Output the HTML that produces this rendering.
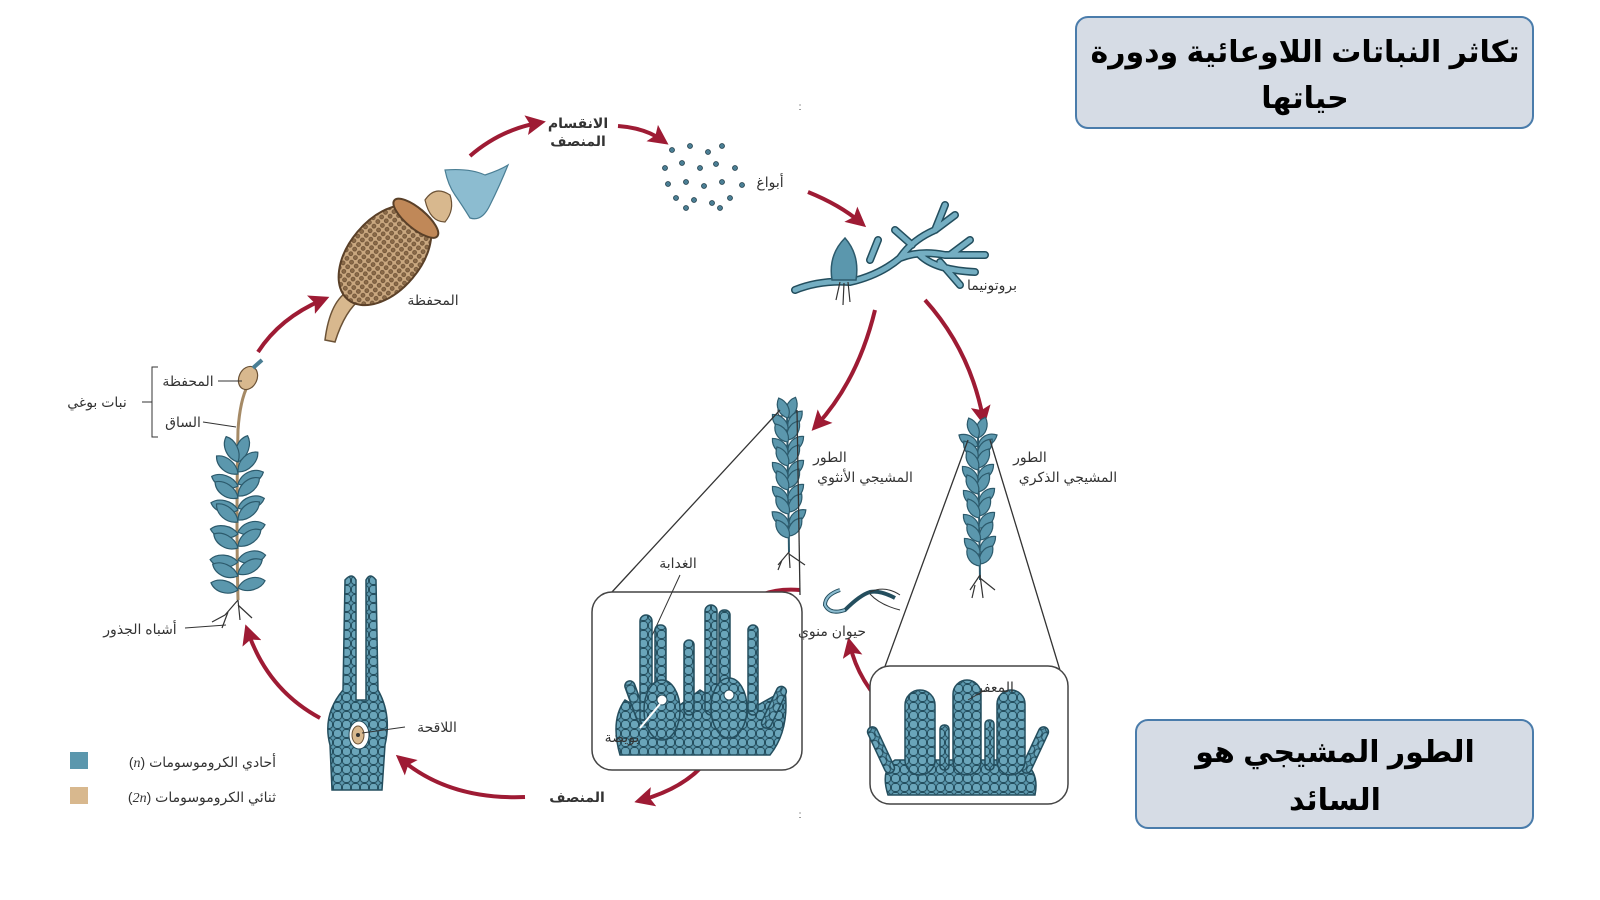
<!DOCTYPE html>
<html><head><meta charset="utf-8"><style>
html,body{margin:0;padding:0;background:#fff;width:1600px;height:900px;overflow:hidden}
svg{display:block}
text{font-family:"Liberation Sans","DejaVu Sans",sans-serif;fill:#333}
.lb{font-size:14px}
.bd{font-weight:bold}
</style></head><body>
<svg width="1600" height="900" viewBox="0 0 1600 900" xmlns="http://www.w3.org/2000/svg">
<defs>
<path id="lf" d="M0 0 C8 -9 22 -8 28 0 C22 7 8 8 0 0Z" fill="#5b97ad" stroke="#2c5a6c" stroke-width="1.2"/>
<path id="lfs" d="M0 0 C6 -7 16 -7 22 0 C16 6 6 7 0 0Z" fill="#5b97ad" stroke="#2c5a6c" stroke-width="1.2"/>
<marker id="ah" viewBox="0 0 10 10" refX="6" refY="5" markerWidth="5" markerHeight="5" orient="auto"><path d="M0 0 L10 5 L0 10 L2 5Z" fill="#9e1b34"/></marker>
<pattern id="cells" width="9" height="9" patternUnits="userSpaceOnUse"><rect width="9" height="9" fill="#5b97ad"/><rect x="0.5" y="0.5" width="8" height="8" rx="3" fill="#6aa5ba" stroke="#244e5e" stroke-width="1"/></pattern>
<pattern id="mesh" width="6" height="6" patternUnits="userSpaceOnUse"><rect width="6" height="6" fill="#c9a77f"/><circle cx="3" cy="3" r="2" fill="#8a6a48" stroke="#5a4028" stroke-width=".6"/></pattern>
</defs>

<rect x="1076" y="17" width="457" height="111" rx="12" fill="#d6dce5" stroke="#4a7cab" stroke-width="2"/>
<text x="1305" y="62" text-anchor="middle" font-size="30" class="bd" style="fill:#000">تكاثر النباتات اللاوعائية ودورة</text>
<text x="1305" y="108" text-anchor="middle" font-size="30" class="bd" style="fill:#000">حياتها</text>
<rect x="1136" y="720" width="397" height="108" rx="12" fill="#d6dce5" stroke="#4a7cab" stroke-width="2"/>
<text x="1335" y="762" text-anchor="middle" font-size="30" class="bd" style="fill:#000">الطور المشيجي هو</text>
<text x="1335" y="810" text-anchor="middle" font-size="30" class="bd" style="fill:#000">السائد</text>

<g fill="none" stroke="#9e1b34" stroke-width="4" marker-end="url(#ah)">
<path d="M258 352 Q280 318 322 300"/>
<path d="M470 156 Q500 130 538 123"/>
<path d="M618 126 Q645 128 662 140"/>
<path d="M808 192 Q840 205 860 222"/>
<path d="M875 310 Q858 380 817 425"/>
<path d="M925 300 Q970 350 983 418"/>
<path d="M905 725 Q860 690 850 645"/>
<path d="M800 590 Q735 585 727 650"/>
<path d="M728 690 Q730 775 642 800"/>
<path d="M525 797 Q450 800 402 760"/>
<path d="M320 718 Q268 690 248 632"/>
</g>

<path d="M325 340 Q330 300 350 290 L362 298 Q345 310 335 342Z" fill="#d8b88e" stroke="#6b5236" stroke-width="1.5"/>
<g transform="translate(385,255) rotate(-50)">
<ellipse cx="0" cy="0" rx="58" ry="36" fill="url(#mesh)" stroke="#5a4028" stroke-width="2"/>
<ellipse cx="48" cy="0" rx="10" ry="28" fill="#c08858" stroke="#5a4028" stroke-width="2"/>
</g>
<path d="M425 200 Q435 185 450 195 Q455 210 445 222 Q430 222 425 200Z" fill="#d8b88e" stroke="#6b5236" stroke-width="1.2"/>
<path d="M445 170 Q470 168 485 175 Q500 170 508 165 Q500 185 490 205 Q482 222 470 218 Q462 205 455 195 Q448 185 445 170Z" fill="#8cbcd0" stroke="#4a7e94" stroke-width="1.2"/>
<text x="433" y="305" class="lb" text-anchor="middle">المحفظة</text>

<text x="578" y="128" class="lb bd" text-anchor="middle">الانقسام</text>
<text x="578" y="146" class="lb bd" text-anchor="middle">المنصف</text>

<g fill="#4a7e94" stroke="#233f4b" stroke-width=".8">
<circle cx="672" cy="150" r="2.5"/><circle cx="690" cy="146" r="2.5"/><circle cx="708" cy="152" r="2.5"/><circle cx="722" cy="146" r="2.5"/>
<circle cx="665" cy="168" r="2.5"/><circle cx="682" cy="163" r="2.5"/><circle cx="700" cy="168" r="2.5"/><circle cx="716" cy="164" r="2.5"/><circle cx="735" cy="168" r="2.5"/>
<circle cx="668" cy="184" r="2.5"/><circle cx="686" cy="182" r="2.5"/><circle cx="704" cy="186" r="2.5"/><circle cx="722" cy="182" r="2.5"/><circle cx="742" cy="185" r="2.5"/>
<circle cx="676" cy="198" r="2.5"/><circle cx="694" cy="200" r="2.5"/><circle cx="712" cy="203" r="2.5"/><circle cx="730" cy="198" r="2.5"/><circle cx="686" cy="208" r="2.5"/><circle cx="720" cy="208" r="2.5"/>
</g>
<text x="770" y="187" class="lb" text-anchor="middle">أبواغ</text>

<g fill="none" stroke-linecap="round">
<path d="M795 290 Q820 280 850 282 Q880 275 900 258 Q920 250 945 255 L985 255 M900 258 Q912 240 935 230 L945 205 M935 230 L955 215 M912 245 L895 230 M870 260 L878 240 M920 255 Q935 270 975 272 M940 262 L960 285 M950 255 L970 240" stroke="#234e5e" stroke-width="8"/>
<path d="M795 290 Q820 280 850 282 Q880 275 900 258 Q920 250 945 255 L985 255 M900 258 Q912 240 935 230 L945 205 M935 230 L955 215 M912 245 L895 230 M870 260 L878 240 M920 255 Q935 270 975 272 M940 262 L960 285 M950 255 L970 240" stroke="#74aec2" stroke-width="5"/>
</g>
<path d="M832 280 Q828 255 845 238 Q860 255 856 280Z" fill="#5b97ad" stroke="#2c5a6c" stroke-width="1.5"/>
<path d="M840 282 L836 300 M848 282 L850 302 M844 283 L843 305" stroke="#333" stroke-width="1.2"/>
<text x="992" y="290" class="lb" text-anchor="middle">بروتونيما</text>

<path d="M238 600 Q236 520 238 430 Q240 400 248 385" stroke="#a58a66" stroke-width="3" fill="none"/>
<ellipse cx="248" cy="378" rx="9" ry="12" transform="rotate(25 248 378)" fill="#d8b88e" stroke="#6b5236" stroke-width="1.2"/>
<path d="M253 368 L262 360" stroke="#4a7e94" stroke-width="4"/>
<g>
<use href="#lf" transform="translate(238,462) rotate(-70)"/><use href="#lf" transform="translate(238,462) rotate(-115)"/>
<use href="#lf" transform="translate(238,472) rotate(-45)"/><use href="#lf" transform="translate(238,474) rotate(-140)"/>
<use href="#lf" transform="translate(238,484) rotate(-25)"/><use href="#lf" transform="translate(238,486) rotate(-160)"/>
<use href="#lf" transform="translate(238,496) rotate(-40)"/><use href="#lf" transform="translate(238,498) rotate(-145)"/>
<use href="#lf" transform="translate(238,508) rotate(-20)"/><use href="#lf" transform="translate(238,510) rotate(-165)"/>
<use href="#lf" transform="translate(238,520) rotate(-40)"/><use href="#lf" transform="translate(238,522) rotate(-140)"/>
<use href="#lf" transform="translate(238,532) rotate(-15)"/><use href="#lf" transform="translate(238,534) rotate(-170)"/>
<use href="#lf" transform="translate(238,546) rotate(-35)"/><use href="#lf" transform="translate(238,548) rotate(-150)"/>
<use href="#lf" transform="translate(238,560) rotate(-10)"/><use href="#lf" transform="translate(238,562) rotate(-175)"/>
<use href="#lf" transform="translate(238,574) rotate(-30)"/><use href="#lf" transform="translate(238,576) rotate(-155)"/>
<use href="#lf" transform="translate(238,588) rotate(-15)"/><use href="#lf" transform="translate(238,590) rotate(-165)"/>
</g>
<path d="M238 600 L225 615 L212 622 M238 600 L240 620 M238 605 L252 618 M228 612 L222 628" stroke="#333" stroke-width="1.2" fill="none"/>
<path d="M158 367 L152 367 L152 437 L158 437 M152 402 L142 402" stroke="#333" fill="none"/>
<text x="97" y="407" class="lb" text-anchor="middle">نبات بوغي</text>
<text x="188" y="386" class="lb" text-anchor="middle">المحفظة</text>
<line x1="218" y1="381" x2="242" y2="381" stroke="#333"/>
<text x="183" y="427" class="lb" text-anchor="middle">الساق</text>
<line x1="203" y1="422" x2="236" y2="427" stroke="#333"/>
<text x="140" y="634" class="lb" text-anchor="middle">أشباه الجذور</text>
<line x1="185" y1="628" x2="226" y2="625" stroke="#333"/>

<path d="M345 580 Q352 572 356 580 L356 700 L366 700 L366 580 Q370 572 376 580 L378 690 Q392 715 385 745 L382 790 L332 790 L330 745 Q322 715 343 690Z" fill="url(#cells)" stroke="#244e5e" stroke-width="1.5"/>
<ellipse cx="359" cy="735" rx="10" ry="14" fill="#fff" stroke="#244e5e"/>
<ellipse cx="358" cy="735" rx="6" ry="9" fill="#d8b88e" stroke="#6b5236"/>
<circle cx="358" cy="735" r="2" fill="#333"/>
<line x1="362" y1="733" x2="405" y2="727" stroke="#333"/>
<text x="437" y="732" class="lb" text-anchor="middle">اللاقحة</text>

<rect x="70" y="752" width="18" height="17" fill="#5b97ad"/>
<rect x="70" y="787" width="18" height="17" fill="#d8b88e"/>
<text x="276" y="767" class="lb" direction="rtl" text-anchor="start">أحادي الكروموسومات (<tspan font-style="italic" font-family="Liberation Serif">n</tspan>)</text>
<text x="276" y="802" class="lb" direction="rtl" text-anchor="start">ثنائي الكروموسومات (<tspan font-style="italic" font-family="Liberation Serif">2n</tspan>)</text>
<text x="577" y="802" class="lb bd" text-anchor="middle">المنصف</text>

<rect x="778" y="404" width="18" height="12" rx="3" fill="none" stroke="#333"/>
<line x1="787" y1="410" x2="789" y2="552" stroke="#2c5a6c" stroke-width="2"/>
<g>
<use href="#lfs" transform="translate(788,418) rotate(-70)"/><use href="#lfs" transform="translate(788,418) rotate(-115)"/>
<use href="#lfs" transform="translate(788,428) rotate(-50)"/><use href="#lfs" transform="translate(788,430) rotate(-135)"/>
<use href="#lfs" transform="translate(788,440) rotate(-60)"/><use href="#lfs" transform="translate(788,442) rotate(-125)"/>
<use href="#lfs" transform="translate(788,452) rotate(-45)"/><use href="#lfs" transform="translate(788,454) rotate(-135)"/>
<use href="#lfs" transform="translate(788,464) rotate(-60)"/><use href="#lfs" transform="translate(788,466) rotate(-120)"/>
<use href="#lfs" transform="translate(788,476) rotate(-45)"/><use href="#lfs" transform="translate(788,478) rotate(-135)"/>
<use href="#lfs" transform="translate(788,488) rotate(-60)"/><use href="#lfs" transform="translate(788,490) rotate(-120)"/>
<use href="#lfs" transform="translate(788,500) rotate(-45)"/><use href="#lfs" transform="translate(788,502) rotate(-135)"/>
<use href="#lfs" transform="translate(789,512) rotate(-55)"/><use href="#lfs" transform="translate(789,514) rotate(-125)"/>
<use href="#lfs" transform="translate(789,524) rotate(-40)"/><use href="#lfs" transform="translate(789,526) rotate(-140)"/>
<use href="#lfs" transform="translate(789,536) rotate(-55)"/><use href="#lfs" transform="translate(789,538) rotate(-125)"/>
</g>
<path d="M789 552 L778 565 M789 552 L790 568 M789 554 L805 565 M782 560 L778 570" stroke="#333" stroke-width="1.2" fill="none"/>
<text x="830" y="462" class="lb" text-anchor="middle">الطور</text>
<text x="865" y="482" class="lb" text-anchor="middle">المشيجي الأنثوي</text>
<line x1="780" y1="410" x2="600" y2="605" stroke="#333" stroke-width="1.3"/>
<line x1="797" y1="410" x2="800" y2="595" stroke="#333" stroke-width="1.3"/>
<rect x="592" y="592" width="210" height="178" rx="20" fill="#fff" stroke="#444" stroke-width="1.5"/>
<text x="678" y="568" class="lb" text-anchor="middle">الغدابة</text>
<line x1="680" y1="575" x2="650" y2="640" stroke="#333"/>
<g fill="url(#cells)" stroke="#244e5e" stroke-width="1.5">
<path d="M620 755 Q610 720 625 700 L660 720 L700 690 L740 715 L785 690 Q790 730 770 755Z"/>
<rect x="630" y="680" width="10" height="45" rx="5" transform="rotate(-20 635 700)"/>
<rect x="640" y="615" width="12" height="110" rx="6"/>
<rect x="655" y="625" width="11" height="95" rx="5"/>
<rect x="684" y="640" width="10" height="75" rx="5"/>
<rect x="705" y="605" width="12" height="110" rx="6"/>
<rect x="719" y="610" width="11" height="100" rx="5"/>
<rect x="748" y="625" width="10" height="90" rx="5"/>
<rect x="770" y="685" width="10" height="45" rx="5" transform="rotate(25 775 705)"/>
<ellipse cx="662" cy="710" rx="18" ry="30"/>
<ellipse cx="729" cy="708" rx="18" ry="30"/>
</g>
<circle cx="662" cy="700" r="5" fill="#fff" stroke="#244e5e"/>
<circle cx="729" cy="695" r="5" fill="#fff" stroke="#244e5e"/>
<line x1="660" y1="704" x2="640" y2="728" stroke="#fff" stroke-width="2"/>
<text x="622" y="742" class="lb" text-anchor="middle" font-size="13">بويضة</text>

<path d="M840 590 Q825 595 825 605 Q830 615 845 610 Q860 595 870 592 Q880 590 895 598" fill="none" stroke="#244e5e" stroke-width="4"/>
<path d="M840 590 Q825 595 825 605 Q830 615 845 610" fill="none" stroke="#8cbcd0" stroke-width="2"/>
<path d="M870 592 Q885 585 900 595 M870 594 Q880 605 900 610" fill="none" stroke="#333" stroke-width="1"/>
<text x="832" y="636" class="lb" text-anchor="middle">حيوان منوي</text>

<line x1="978" y1="435" x2="980" y2="580" stroke="#2c5a6c" stroke-width="2"/>
<g>
<use href="#lfs" transform="translate(978,438) rotate(-70)"/><use href="#lfs" transform="translate(978,438) rotate(-115)"/>
<use href="#lfs" transform="translate(978,446) rotate(-30)"/><use href="#lfs" transform="translate(978,446) rotate(-150)"/>
<use href="#lfs" transform="translate(978,456) rotate(-50)"/><use href="#lfs" transform="translate(978,458) rotate(-130)"/>
<use href="#lfs" transform="translate(978,468) rotate(-60)"/><use href="#lfs" transform="translate(978,470) rotate(-120)"/>
<use href="#lfs" transform="translate(978,480) rotate(-45)"/><use href="#lfs" transform="translate(978,482) rotate(-135)"/>
<use href="#lfs" transform="translate(978,492) rotate(-60)"/><use href="#lfs" transform="translate(978,494) rotate(-120)"/>
<use href="#lfs" transform="translate(979,504) rotate(-45)"/><use href="#lfs" transform="translate(979,506) rotate(-135)"/>
<use href="#lfs" transform="translate(979,516) rotate(-60)"/><use href="#lfs" transform="translate(979,518) rotate(-120)"/>
<use href="#lfs" transform="translate(979,528) rotate(-45)"/><use href="#lfs" transform="translate(979,530) rotate(-135)"/>
<use href="#lfs" transform="translate(980,540) rotate(-55)"/><use href="#lfs" transform="translate(980,542) rotate(-125)"/>
<use href="#lfs" transform="translate(980,552) rotate(-45)"/><use href="#lfs" transform="translate(980,554) rotate(-135)"/>
<use href="#lfs" transform="translate(980,564) rotate(-55)"/><use href="#lfs" transform="translate(980,566) rotate(-125)"/>
</g>
<path d="M980 575 L970 590 M980 575 L983 598 M980 578 L995 590 M975 585 L972 598" stroke="#333" stroke-width="1.2" fill="none"/>
<text x="1030" y="462" class="lb" text-anchor="middle">الطور</text>
<text x="1068" y="482" class="lb" text-anchor="middle">المشيجي الذكري</text>
<line x1="968" y1="440" x2="880" y2="680" stroke="#333" stroke-width="1.3"/>
<line x1="990" y1="440" x2="1066" y2="690" stroke="#333" stroke-width="1.3"/>
<rect x="870" y="666" width="198" height="138" rx="20" fill="#fff" stroke="#444" stroke-width="1.5"/>
<g fill="url(#cells)" stroke="#244e5e" stroke-width="1.5">
<path d="M888 795 Q880 770 895 760 L1020 760 Q1040 770 1035 795Z"/>
<rect x="876" y="725" width="10" height="50" rx="5" transform="rotate(-25 881 750)"/>
<rect x="1030" y="725" width="10" height="50" rx="5" transform="rotate(25 1035 750)"/>
<rect x="905" y="690" width="30" height="85" rx="15"/>
<rect x="940" y="725" width="9" height="45" rx="4"/>
<rect x="953" y="680" width="28" height="95" rx="14"/>
<rect x="985" y="720" width="9" height="50" rx="4"/>
<rect x="997" y="690" width="28" height="85" rx="14"/>
</g>
<line x1="968" y1="700" x2="985" y2="690" stroke="#333"/>
<text x="995" y="692" class="lb" text-anchor="middle" font-size="13">المعفر</text>

<text x="800" y="110" font-size="10" text-anchor="middle">:</text>
<text x="800" y="818" font-size="10" text-anchor="middle">:</text>
</svg>
</body></html>
